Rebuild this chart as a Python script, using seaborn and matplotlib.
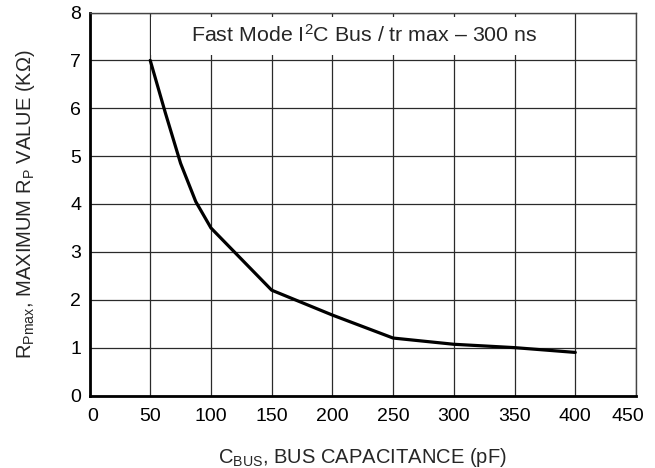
import matplotlib
matplotlib.use("Agg")
import matplotlib.pyplot as plt
import matplotlib.transforms as mtransforms
import seaborn as sns
import pandas as pd
from matplotlib.patches import Rectangle

cbus_pf = [50, 62.5, 75, 87.5, 100, 125, 150, 200, 250, 300, 350, 400]
rp_max_kohm = [7.0, 5.9, 4.85, 4.05, 3.5, 2.85, 2.2, 1.68, 1.2, 1.07, 1.0, 0.9]
x_ticks = [0, 50, 100, 150, 200, 250, 300, 350, 400, 450]
y_ticks = [0, 1, 2, 3, 4, 5, 6, 7, 8]
title_text = "Fast Mode I$^{2}$C Bus / tr max \u2013 300 ns"
x_label = "C$_{\\mathrm{BUS}}$, BUS CAPACITANCE (pF)"
y_label = "R$_{\\mathrm{Pmax}}$, MAXIMUM R$_{\\mathrm{P}}$ VALUE (K\u03a9)"

sns.set_style("white")
plt.rcParams["font.family"] = ["Liberation Sans", "DejaVu Sans"]
plt.rcParams["mathtext.fontset"] = "custom"
plt.rcParams["mathtext.rm"] = "Liberation Sans"
plt.rcParams["mathtext.it"] = "Liberation Sans"
plt.rcParams["mathtext.bf"] = "Liberation Sans"

df = pd.DataFrame({"C": cbus_pf, "R": rp_max_kohm})

fig = plt.figure(figsize=(6.55, 4.68), dpi=100)
ax = fig.add_axes([89.5 / 655, 1 - 395.5 / 468, (636 - 89.5) / 655, (395.5 - 12.5) / 468])

sns.lineplot(data=df, x="C", y="R", ax=ax, color="black", linewidth=2.3, zorder=3)

ax.set_xlim(0, 450)
ax.set_ylim(0, 8)
ax.set_xticks(x_ticks)
ax.set_yticks(y_ticks)
ax.set_axisbelow(True)
ax.grid(True, color="#2a2a2a", linewidth=0.9)

# white title panel inside the top row (grid lines form its border)
ax.add_patch(Rectangle((50.8, 7.12), 398.4 - 50.8, 7.9 - 7.12, facecolor="white",
                       edgecolor="none", zorder=1))
ax.text(226, 7.53, title_text, ha="center", va="center", fontsize=15.4, zorder=4)

for s in ["left", "bottom"]:
    ax.spines[s].set_linewidth(2.0)
    ax.spines[s].set_color("black")
for s in ["top", "right"]:
    ax.spines[s].set_linewidth(1.0)
    ax.spines[s].set_color("#444444")
    ax.spines[s].set_visible(True)

ax.tick_params(axis="both", length=0, labelsize=14, colors="black")
ax.tick_params(axis="x", pad=9)
ax.tick_params(axis="y", pad=6)

fig.canvas.draw()
xl = ax.get_xticklabels()
xl[0].set_transform(xl[0].get_transform() + mtransforms.ScaledTranslation(3.5 / 100, 0, fig.dpi_scale_trans))
xl[-1].set_transform(xl[-1].get_transform() + mtransforms.ScaledTranslation(-8 / 100, 0, fig.dpi_scale_trans))

ax.set_xlabel(x_label, fontsize=14.5, labelpad=15)
ax.set_ylabel(y_label, fontsize=14.5, labelpad=24)

fig.savefig("out.png", dpi=100)
